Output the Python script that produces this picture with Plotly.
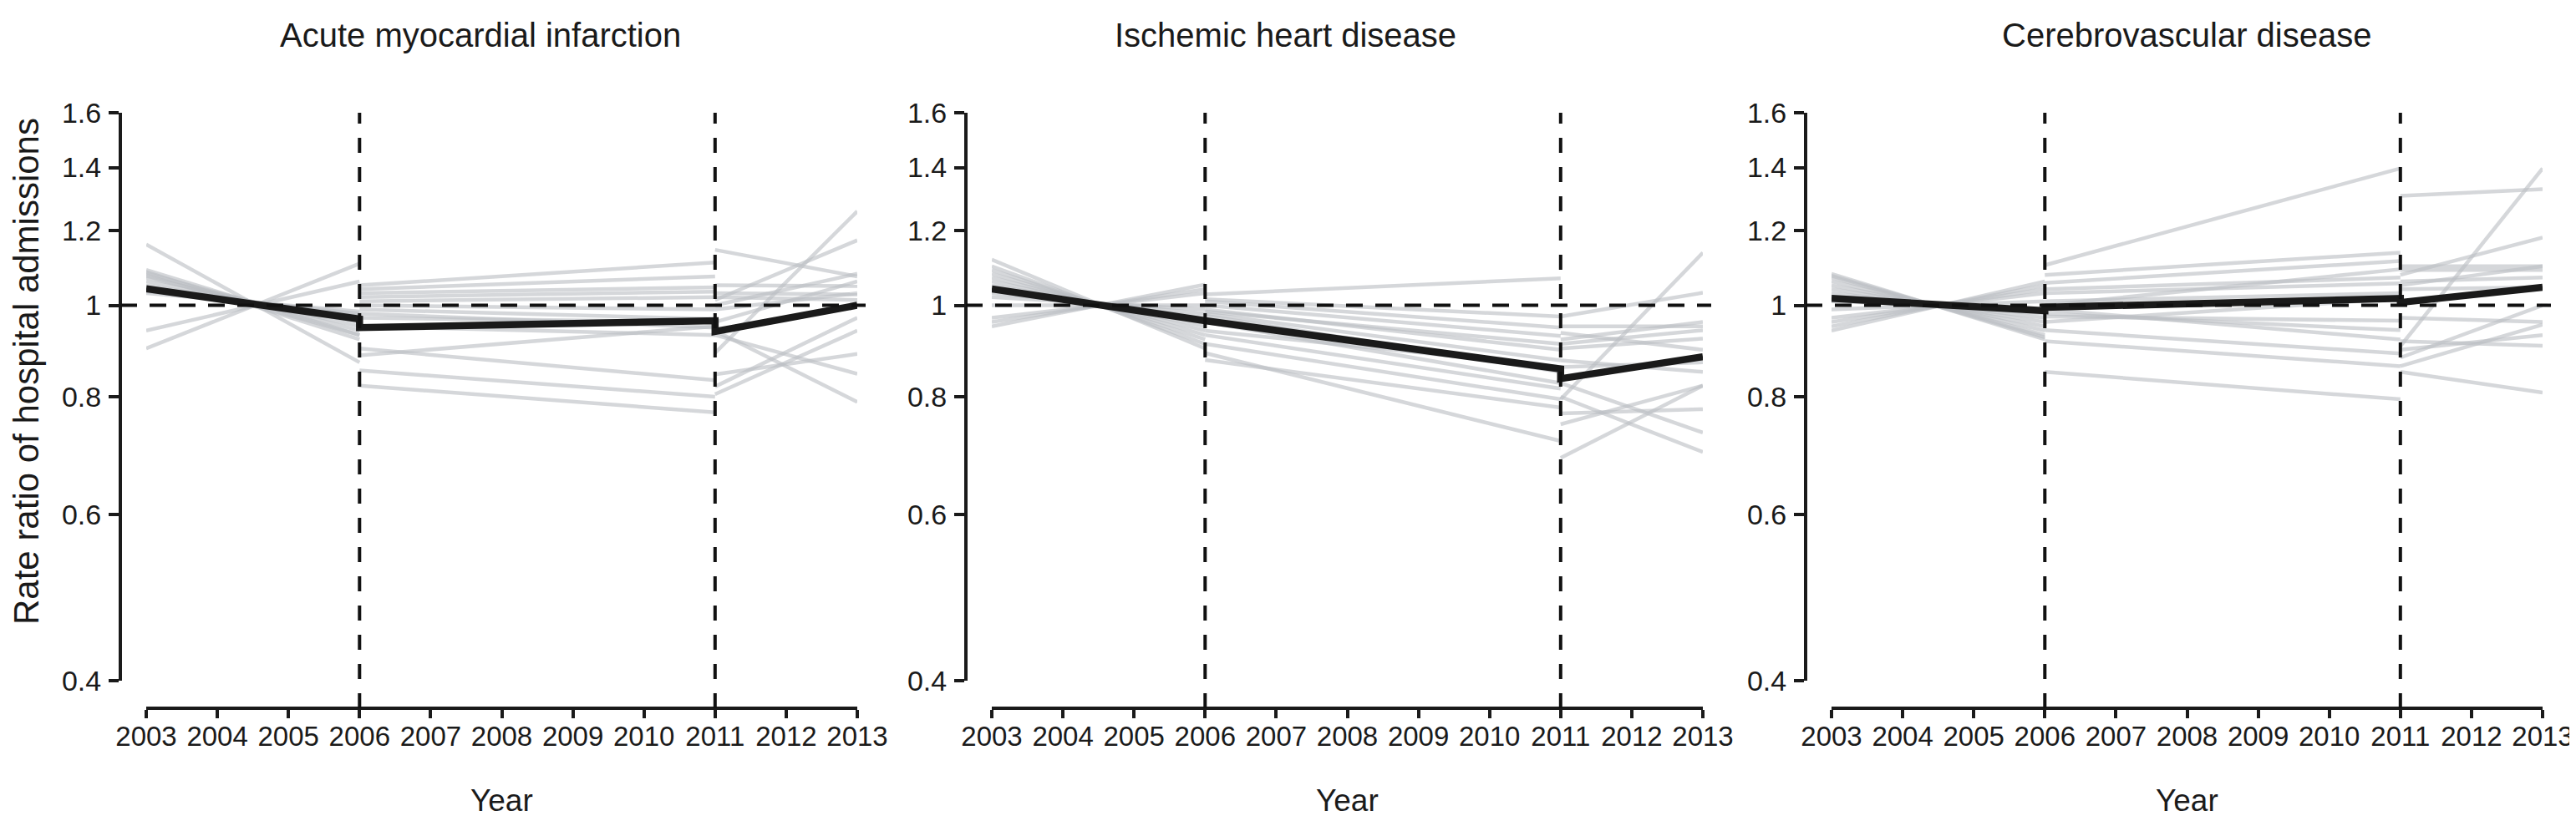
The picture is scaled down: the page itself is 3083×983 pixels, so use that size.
import math
import plotly.graph_objects as go

# ---------------- data ----------------
YEARS = list(range(2003, 2014))
BREAK_YEARS = [2006, 2011]
# each region / overall row: value at 2003, 2006 (pre), 2006 (post), 2011 (pre), 2011 (post), 2013
POINT_YEARS = [2003, 2006, 2006, 2011, 2011, 2013]
Y_TICKS = [0.4, 0.6, 0.8, 1.0, 1.2, 1.4, 1.6]
Y_TICK_TEXT = ["0.4", "0.6", "0.8", "1", "1.2", "1.4", "1.6"]
TITLES = ["Acute myocardial infarction", "Ischemic heart disease", "Cerebrovascular disease"]
Y_TITLE = "Rate ratio of hospital admissions"
X_TITLE = "Year"

ami_overall = [1.041, 0.967, 0.947, 0.963, 0.938, 1.000]
ami_regions = [
    [1.16, 0.87, 0.90, 0.833, 0.94, 0.79],
    [0.90, 1.107, 1.05, 1.11, 1.145, 1.073],
    [0.94, 1.06, 1.04, 1.073, 1.013, 1.172],
    [1.09, 0.93, 0.885, 0.95, 0.89, 1.258],
    [1.08, 0.94, 0.853, 0.80, 0.805, 0.94],
    [1.07, 0.95, 0.822, 0.77, 0.82, 0.97],
    [1.06, 0.96, 1.03, 1.045, 1.05, 1.048],
    [1.05, 0.965, 1.02, 1.034, 1.03, 1.027],
    [1.045, 0.97, 1.01, 1.02, 1.02, 1.013],
    [1.04, 0.975, 1.00, 0.99, 0.99, 1.03],
    [1.035, 0.98, 0.99, 0.967, 0.93, 0.846],
    [1.03, 0.985, 0.98, 0.947, 0.845, 0.888],
    [1.075, 0.93, 0.97, 0.96, 0.96, 1.06],
    [1.085, 0.92, 0.95, 0.93, 1.00, 1.08],
]

ihd_overall = [1.041, 0.963, 0.963, 0.856, 0.836, 0.882]
ihd_regions = [
    [0.95, 1.052, 1.027, 1.068, 0.973, 1.031],
    [1.118, 0.90, 0.89, 0.718, 0.689, 0.822],
    [1.10, 0.91, 0.875, 0.779, 0.795, 1.137],
    [1.09, 0.92, 0.91, 0.795, 0.827, 0.733],
    [1.08, 0.93, 0.93, 0.816, 0.80, 0.699],
    [1.07, 0.94, 0.975, 0.85, 0.768, 0.776],
    [1.06, 0.95, 0.98, 0.874, 0.874, 0.85],
    [1.05, 0.96, 0.99, 0.897, 0.90, 0.922],
    [1.04, 0.97, 1.00, 0.928, 0.91, 0.941],
    [1.03, 0.98, 1.01, 0.947, 0.935, 0.897],
    [1.02, 0.99, 0.96, 0.827, 0.748, 0.822],
    [0.97, 1.03, 1.015, 0.973, 0.95, 0.95],
    [0.96, 1.04, 0.94, 0.86, 0.86, 0.87],
    [1.00, 1.00, 0.985, 0.91, 0.92, 0.96],
]

cvd_overall = [1.017, 0.987, 0.995, 1.017, 1.007, 1.045]
cvd_regions = [
    [0.94, 1.06, 1.103, 1.397, 1.306, 1.328],
    [1.08, 0.92, 1.077, 1.137, 1.077, 1.18],
    [1.07, 0.93, 1.056, 1.114, 1.10, 1.10],
    [1.06, 0.94, 0.85, 0.795, 0.85, 0.808],
    [1.05, 0.95, 0.941, 0.889, 0.862, 0.954],
    [1.04, 0.96, 0.973, 0.963, 0.905, 1.397],
    [1.03, 0.97, 1.03, 1.055, 1.06, 1.07],
    [1.02, 0.98, 1.00, 1.092, 1.09, 1.09],
    [1.01, 0.99, 1.04, 1.07, 1.04, 1.045],
    [0.99, 1.01, 0.98, 0.941, 0.916, 0.906],
    [0.97, 1.03, 0.96, 1.017, 0.97, 0.96],
    [0.95, 1.05, 0.99, 0.92, 0.897, 0.93],
    [0.96, 1.04, 1.01, 1.03, 1.05, 1.10],
    [1.075, 0.925, 0.916, 0.862, 0.88, 1.00],
]

PANELS = [
    (ami_regions, ami_overall),
    (ihd_regions, ihd_overall),
    (cvd_regions, cvd_overall),
]

# ---------------- layout geometry (pixels) ----------------
W, H = 3083, 983
X_START_PX = [167, 1179, 2184]   # pixel of first year on each panel
X_SPAN_PX = 851                  # pixel span first->last year
YAXIS_GAP_PX = 31                # y axis line sits left of first year
Y_TOP_PX, Y_BOT_PX = 127, 807    # pixel rows of 1.6 and 0.4
XAXIS_PX = 840                   # detached x axis line
TITLE_PX = 34
TITLE_CX_PX = [567, 1530, 2609]
XTITLE_PX = 950

FONT = "Liberation Sans, Arial, Helvetica, sans-serif"
GREY = "rgba(188,191,196,0.62)"
BLACK = "#1a1a1a"


def px_x(p):
    return p / W


def px_y(p):
    return 1 - p / H


def seg_xy(vals):
    xs, ys = [], []
    for i in range(0, 6, 2):
        xs += [POINT_YEARS[i], POINT_YEARS[i + 1], None]
        ys += [vals[i], vals[i + 1], None]
    return xs, ys


fig = go.Figure()
layout = dict(
    width=W, height=H, autosize=False,
    margin=dict(l=0, r=0, t=0, b=0),
    paper_bgcolor="white", plot_bgcolor="rgba(0,0,0,0)",
    showlegend=False,
    font=dict(family=FONT, color="#1a1a1a", size=32),
)
shapes = []
annotations = []

for k, (regions, overall) in enumerate(PANELS):
    sfx = "" if k == 0 else str(k + 1)
    xa, ya = "x" + sfx, "y" + sfx
    x0p = X_START_PX[k]
    x1p = x0p + X_SPAN_PX
    yap = x0p - YAXIS_GAP_PX

    for row in regions:
        xs, ys = seg_xy(row)
        fig.add_trace(go.Scatter(
            x=xs, y=ys, mode="lines", xaxis=xa, yaxis=ya,
            line=dict(color=GREY, width=4.5), hoverinfo="skip"))
    fig.add_trace(go.Scatter(
        x=POINT_YEARS, y=overall, mode="lines", xaxis=xa, yaxis=ya,
        line=dict(color=BLACK, width=8.5), hoverinfo="skip"))

    layout["xaxis" + sfx] = dict(
        domain=[px_x(x0p), px_x(x1p)], range=[YEARS[0], YEARS[-1]],
        anchor="free", position=px_y(XAXIS_PX),
        tickmode="array", tickvals=YEARS, ticktext=[str(v) for v in YEARS],
        ticks="outside", ticklen=10, tickwidth=4, tickcolor="#1a1a1a",
        showline=True, linewidth=4, linecolor="#1a1a1a",
        showgrid=False, zeroline=False, automargin=False,
        tickfont=dict(size=33, family=FONT, color="#1a1a1a"),
        ticklabelstandoff=-7,
    )
    layout["yaxis" + sfx] = dict(
        domain=[px_y(Y_BOT_PX), px_y(Y_TOP_PX)], type="log",
        range=[math.log10(Y_TICKS[0]), math.log10(Y_TICKS[-1])],
        anchor="free", position=px_x(yap),
        tickmode="array", tickvals=Y_TICKS, ticktext=Y_TICK_TEXT,
        ticks="outside", ticklen=12, tickwidth=4, tickcolor="#1a1a1a",
        showline=True, linewidth=4, linecolor="#1a1a1a",
        showgrid=False, zeroline=False, automargin=False,
        tickfont=dict(size=34, family=FONT, color="#1a1a1a"),
        ticklabelstandoff=2,
    )

    # reference lines
    shapes.append(dict(
        type="line", xref="paper", yref=ya,
        x0=px_x(yap), x1=px_x(x1p + 10), y0=1, y1=1,
        line=dict(color="#111111", width=4, dash="20px,15px"), layer="above"))
    for yr in BREAK_YEARS:
        shapes.append(dict(
            type="line", xref=xa, yref="paper",
            x0=yr, x1=yr, y0=px_y(XAXIS_PX), y1=px_y(Y_TOP_PX),
            line=dict(color="#111111", width=4, dash="18px,17px"), layer="above"))

    annotations.append(dict(
        text=TITLES[k], xref="paper", yref="paper",
        x=px_x(TITLE_CX_PX[k]), y=px_y(TITLE_PX),
        xanchor="center", yanchor="middle", showarrow=False,
        font=dict(size=40, family=FONT, color="#1a1a1a")))
    annotations.append(dict(
        text=X_TITLE, xref="paper", yref="paper",
        x=px_x((x0p + x1p) / 2), y=px_y(XTITLE_PX),
        xanchor="center", yanchor="middle", showarrow=False,
        font=dict(size=37, family=FONT, color="#1a1a1a")))

annotations.append(dict(
    text=Y_TITLE, xref="paper", yref="paper", x=px_x(23), y=px_y(437),
    xanchor="center", yanchor="middle", textangle=-90, showarrow=False,
    font=dict(size=42, family=FONT, color="#1a1a1a")))

layout["shapes"] = shapes
layout["annotations"] = annotations
fig.update_layout(**layout)
fig.write_html("out.html")
